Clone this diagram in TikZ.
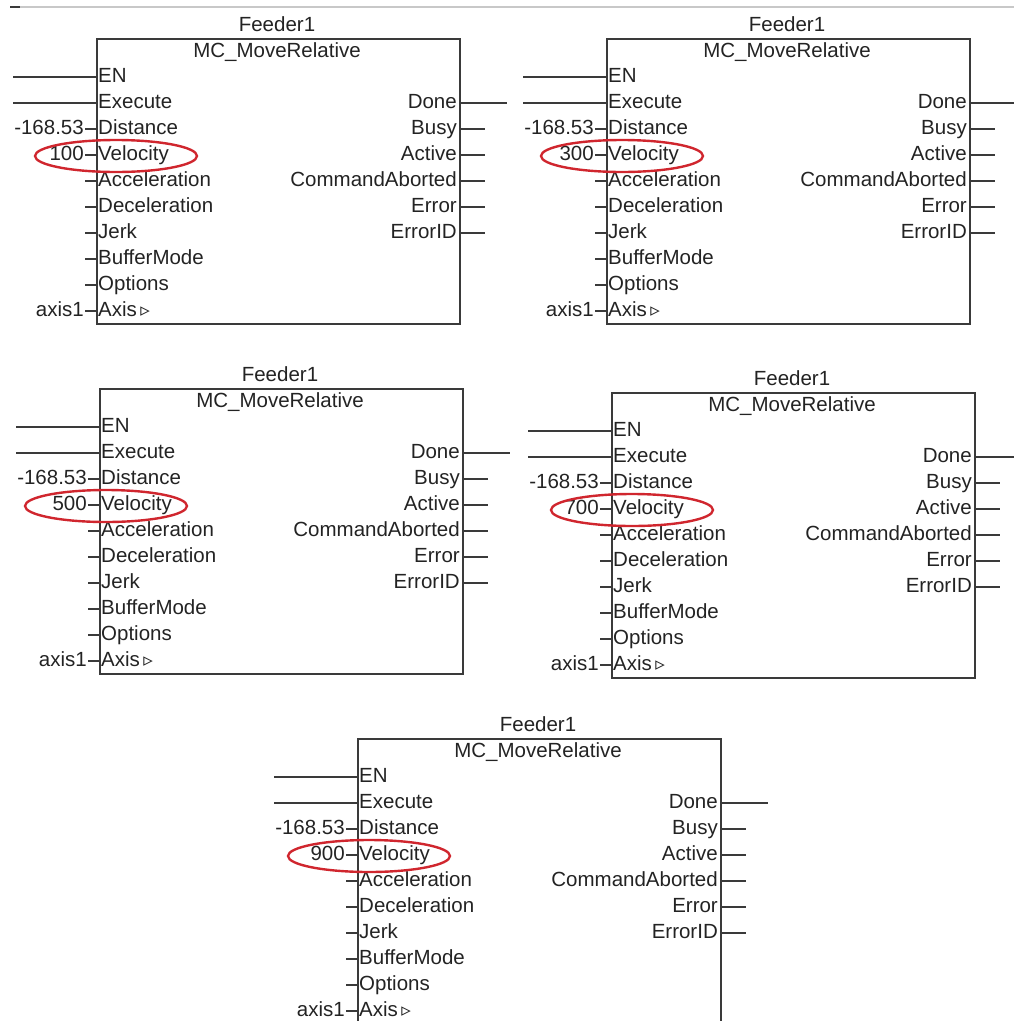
\documentclass[tikz,border=0pt]{standalone}
\usepackage{fontspec}
\setmainfont{Liberation Sans}
\newfontfamily\symfont{DejaVu Sans}
\usepackage{tikz}
\usepackage{xcolor}
\definecolor{fbline}{HTML}{3A3A3A}
\definecolor{fbtext}{HTML}{232323}
\definecolor{fbring}{HTML}{D0262E}
\definecolor{fbrule}{HTML}{C8C8C8}

\tikzset{
  fbbox/.style={draw=fbline, line width=1.5pt, inner sep=0pt, minimum width=363pt, minimum height=285pt, anchor=north west},
  fbtitle/.style={text=fbtext, font=\fontsize{20.5}{24}\selectfont, inner sep=0pt},
  pinin/.style={text=fbtext, font=\fontsize{20.5}{24}\selectfont, anchor=west, inner xsep=2pt, inner ysep=0pt, text height=14pt, text depth=4pt},
  pinout/.style={pinin, anchor=east},
  pinval/.style={pinin, anchor=east, inner xsep=1pt},
  wire/.style={draw=fbline, line width=1.3pt},
  ring/.style={draw=fbring, line width=2.4pt}
}

% one MC_MoveRelative block: #1 name, #2 left, #3 top, #4 velocity, #5 ring x
\newcommand{\feeder}[5]{%
  \begin{scope}[shift={(#2,#3)}]
    \node[fbbox] (#1) at (0,0) {};
    \node[fbtitle] (#1-inst) at (181,-14) {Feeder1};
    \node[fbtitle] (#1-type) at (181,14) {MC\_MoveRelative};
    % inputs
    \node[pinin] (#1-en)   at (0,39)  {EN};
    \node[pinin] (#1-exec) at (0,65)  {Execute};
    \node[pinin] (#1-dist) at (0,91)  {Distance};
    \node[pinin] (#1-vel)  at (0,117) {Velocity};
    \node[pinin] (#1-acc)  at (0,143) {Acceleration};
    \node[pinin] (#1-dec)  at (0,169) {Deceleration};
    \node[pinin] (#1-jerk) at (0,195) {Jerk};
    \node[pinin] (#1-buf)  at (0,221) {BufferMode};
    \node[pinin] (#1-opt)  at (0,247) {Options};
    \node[pinin] (#1-axis) at (0,273) {Axis\,{\symfont\fontsize{19}{19}\selectfont ▹}};
    \node[pinval] (#1-distv) at (-11,91)  {-168.53};
    \node[pinval] (#1-velv)  at (-11,117) {#4};
    \node[pinval] (#1-axisv) at (-11,273) {axis1};
    \coordinate (#1-enw)   at (-83,39);
    \coordinate (#1-execw) at (-83,65);
    \coordinate (#1-accw)  at (-11,143);
    \coordinate (#1-decw)  at (-11,169);
    \coordinate (#1-jerkw) at (-11,195);
    \coordinate (#1-bufw)  at (-11,221);
    \coordinate (#1-optw)  at (-11,247);
    \draw[wire] (#1-enw) -- (#1-en.west);
    \draw[wire] (#1-execw) -- (#1-exec.west);
    \draw[wire] (#1-distv.east) -- (#1-dist.west);
    \draw[wire] (#1-velv.east) -- (#1-vel.west);
    \draw[wire] (#1-accw) -- (#1-acc.west);
    \draw[wire] (#1-decw) -- (#1-dec.west);
    \draw[wire] (#1-jerkw) -- (#1-jerk.west);
    \draw[wire] (#1-bufw) -- (#1-buf.west);
    \draw[wire] (#1-optw) -- (#1-opt.west);
    \draw[wire] (#1-axisv.east) -- (#1-axis.west);
    % outputs
    \node[pinout] (#1-done) at (363,65)  {Done};
    \node[pinout] (#1-busy) at (363,91)  {Busy};
    \node[pinout] (#1-act)  at (363,117) {Active};
    \node[pinout] (#1-abrt) at (363,143) {CommandAborted};
    \node[pinout] (#1-err)  at (363,169) {Error};
    \node[pinout] (#1-eid)  at (363,195) {ErrorID};
    \coordinate (#1-donee) at (411,65);
    \coordinate (#1-busye) at (389,91);
    \coordinate (#1-acte)  at (389,117);
    \coordinate (#1-abrte) at (389,143);
    \coordinate (#1-erre)  at (389,169);
    \coordinate (#1-eide)  at (389,195);
    \draw[wire] (#1-done.east) -- (#1-donee);
    \draw[wire] (#1-busy.east) -- (#1-busye);
    \draw[wire] (#1-act.east) -- (#1-acte);
    \draw[wire] (#1-abrt.east) -- (#1-abrte);
    \draw[wire] (#1-err.east) -- (#1-erre);
    \draw[wire] (#1-eid.east) -- (#1-eide);
    % red mark round the velocity value
    \draw[ring] (#5,118) ellipse [x radius=81, y radius=16];
  \end{scope}}

\begin{document}
\begin{tikzpicture}[x=1pt, y=-1pt]
  \useasboundingbox (0,0) rectangle (1014,1021);
  \clip (0,0) rectangle (1014,1021);
  \draw[fbrule, line width=1.2pt] (10,7) -- (1014,7);
  \draw[fbline, line width=1.2pt] (10,7) -- (20,7);
  \feeder{fa}{96}{38}{100}{20}
  \feeder{fb}{606}{38}{300}{16}
  \feeder{fc}{99}{388}{500}{7}
  \feeder{fd}{611}{392}{700}{21}
  \feeder{fe}{357}{738}{900}{12}
\end{tikzpicture}
\end{document}
